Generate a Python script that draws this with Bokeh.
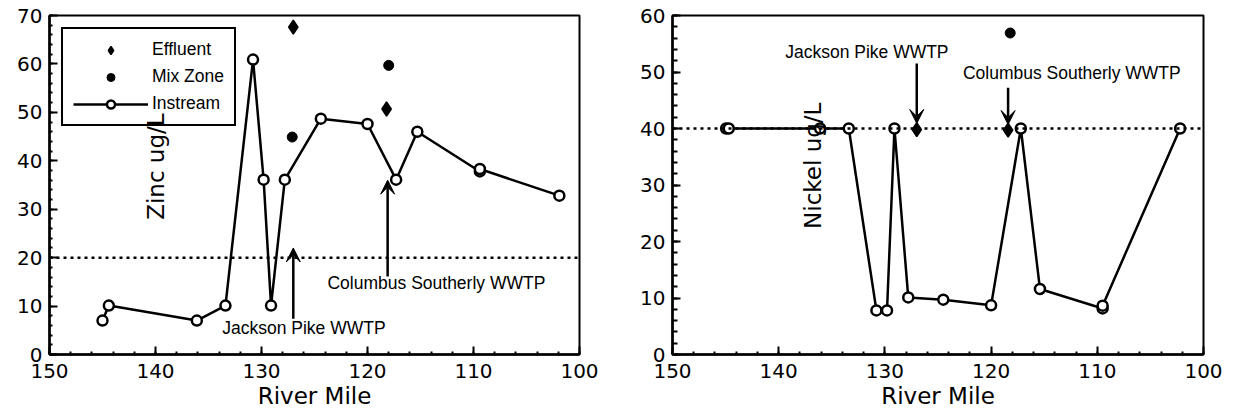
import math
from bokeh.plotting import figure
from bokeh.models import (Range1d, SingleIntervalTicker, Span, Arrow, VeeHead,
                          Legend, LegendItem, Label)
from bokeh.layouts import row
from bokeh.embed import file_html
from bokeh.resources import INLINE

# ---------------- data ----------------
zinc_instream_mile = [145.0, 144.4, 136.1, 133.4, 130.8, 129.8, 129.1, 127.8,
                      124.4, 120.0, 117.3, 115.3, 109.4, 109.4, 101.9]
zinc_instream = [7.0, 10.1, 7.0, 10.1, 60.9, 36.1, 10.1, 36.1,
                 48.7, 47.6, 36.1, 46.0, 37.8, 38.3, 32.8]
zinc_effluent_mile = [127.0, 118.2]
zinc_effluent = [67.6, 50.7]
zinc_mix_mile = [127.1, 118.0]
zinc_mix = [44.9, 59.7]
zinc_standard = 20

nickel_instream_mile = [144.95, 144.7, 136.1, 133.4, 130.8, 129.8, 129.1, 127.8,
                        124.5, 120.0, 117.2, 115.4, 109.5, 109.5, 102.2]
nickel_instream = [40.0, 40.0, 40.0, 40.0, 7.8, 7.8, 40.0, 10.1,
                   9.7, 8.7, 40.0, 11.6, 8.15, 8.65, 40.0]
nickel_effluent_mile = [127.0, 118.4]
nickel_effluent = [39.8, 39.7]
nickel_mix_mile = [118.2]
nickel_mix = [56.9]
nickel_standard = 40

x_label = "River Mile"
zinc_label = "Zinc ug/L"
nickel_label = "Nickel ug/L"
legend_labels = ["Effluent", "Mix Zone", "Instream"]
jackson = "Jackson Pike WWTP"
columbus = "Columbus Southerly WWTP"

# annotation anchor points (data units): arrow (x, tail, tip), text (x, y)
zinc_jackson_arrow = (127.0, 7.4, 22.0)
zinc_jackson_text = (126.0, 5.4)
zinc_columbus_arrow = (118.1, 16.1, 36.0)
zinc_columbus_text = (113.5, 14.7)
zinc_ylabel_pos = (140.0, 38.8)

nickel_jackson_arrow = (127.0, 51.5, 40.9)
nickel_jackson_text = (131.7, 53.5)
nickel_columbus_arrow = (118.4, 47.2, 40.7)
nickel_columbus_text = (112.4, 49.8)
nickel_ylabel_pos = (136.8, 33.4)

TICK_FONT = "DejaVu Sans"
ANN_FONT = "Liberation Sans"


def make_fig(ymax, bl, br):
    p = figure(width=618, height=415, x_range=Range1d(150, 100),
               y_range=Range1d(0, ymax), output_backend="svg",
               toolbar_location=None, min_border_left=bl,
               min_border_right=br, min_border_top=15, min_border_bottom=61)
    p.grid.visible = False
    p.outline_line_color = "black"
    p.outline_line_width = 2
    p.outline_line_alpha = 1
    p.background_fill_color = "white"
    p.border_fill_color = "white"
    for ax in (p.xaxis[0], p.yaxis[0]):
        ax.ticker = SingleIntervalTicker(interval=10, num_minor_ticks=5)
        ax.axis_line_width = 2.5
        ax.axis_line_color = "black"
        ax.major_tick_line_color = "black"
        ax.minor_tick_line_color = "black"
        ax.major_tick_line_width = 2
        ax.minor_tick_line_width = 2
        ax.major_tick_out = 0
        ax.major_tick_in = 8
        ax.minor_tick_out = 0
        ax.minor_tick_in = 3
        ax.major_label_text_font = TICK_FONT
        ax.major_label_text_font_size = "20px"
        ax.major_label_text_color = "black"
    p.xaxis.axis_label = x_label
    p.xaxis.axis_label_text_font = TICK_FONT
    p.xaxis.axis_label_text_font_size = "23px"
    p.xaxis.axis_label_text_font_style = "normal"
    p.xaxis.axis_label_text_color = "black"
    p.xaxis.axis_label_standoff = 2
    p.xaxis.major_label_standoff = 9
    p.yaxis.major_label_standoff = 7
    return p


def add_data(p, miles, vals, emiles, evals, mmiles, mvals, std,
             ja, jt, ca, ct):
    p.add_layout(Span(location=std, dimension="width", line_color="black",
                      line_width=2.5, line_dash="3 4"))
    r_line = p.line(miles, vals, line_color="black", line_width=2.5)
    r_circ = p.scatter(miles, vals, marker="circle", size=10,
                       fill_color="white", line_color="black", line_width=2.5)
    r_eff = p.scatter(emiles, evals, marker="diamond", size=14,
                      fill_color="black", line_color="black", line_width=1.5)
    r_mix = p.scatter(mmiles, mvals, marker="circle", size=10,
                      fill_color="black", line_color="black")
    for (ax_, tail, tip), (tx, ty), txt in ((ja, jt, jackson), (ca, ct, columbus)):
        p.add_layout(Arrow(x_start=ax_, y_start=tail, x_end=ax_, y_end=tip,
                           line_color="black", line_width=2.5,
                           end=VeeHead(size=14, fill_color="black",
                                       line_color="black", line_width=1)))
        p.add_layout(Label(x=tx, y=ty, text=txt, text_align="center",
                           text_baseline="middle", text_font=ANN_FONT,
                           text_font_size="17.5px", text_color="black"))
    return r_line, r_circ, r_eff, r_mix


def add_ylabel(p, ylab, ylabpos):
    p.add_layout(Label(x=ylabpos[0], y=ylabpos[1], text=ylab, angle=math.pi / 2,
                       text_align="center", text_baseline="middle",
                       text_font=TICK_FONT, text_font_size="23px",
                       text_color="black"))


p1 = make_fig(70, 49, 39)
l1, c1, e1, m1 = add_data(p1, zinc_instream_mile, zinc_instream,
                          zinc_effluent_mile, zinc_effluent,
                          zinc_mix_mile, zinc_mix, zinc_standard,
                          zinc_jackson_arrow, zinc_jackson_text,
                          zinc_columbus_arrow, zinc_columbus_text)
legend = Legend(items=[LegendItem(label=legend_labels[0], renderers=[e1]),
                       LegendItem(label=legend_labels[1], renderers=[m1]),
                       LegendItem(label=legend_labels[2], renderers=[l1, c1])],
                location="top_left", margin=12, padding=10, spacing=6,
                glyph_height=20, glyph_width=75, label_standoff=4,
                label_height=20,
                label_text_font=ANN_FONT, label_text_font_size="17.5px",
                label_text_color="black", border_line_color="black",
                border_line_alpha=1,
                border_line_width=2, background_fill_color="white",
                background_fill_alpha=0)
p1.add_layout(legend)
add_ylabel(p1, zinc_label, zinc_ylabel_pos)

p2 = make_fig(60, 54, 33)
p2.yaxis.minor_tick_in = 5
add_data(p2, nickel_instream_mile, nickel_instream,
         nickel_effluent_mile, nickel_effluent,
         nickel_mix_mile, nickel_mix, nickel_standard,
         nickel_jackson_arrow, nickel_jackson_text,
         nickel_columbus_arrow, nickel_columbus_text)
add_ylabel(p2, nickel_label, nickel_ylabel_pos)

layout = row(p1, p2)
open("out.html", "w").write(file_html(layout, INLINE))
